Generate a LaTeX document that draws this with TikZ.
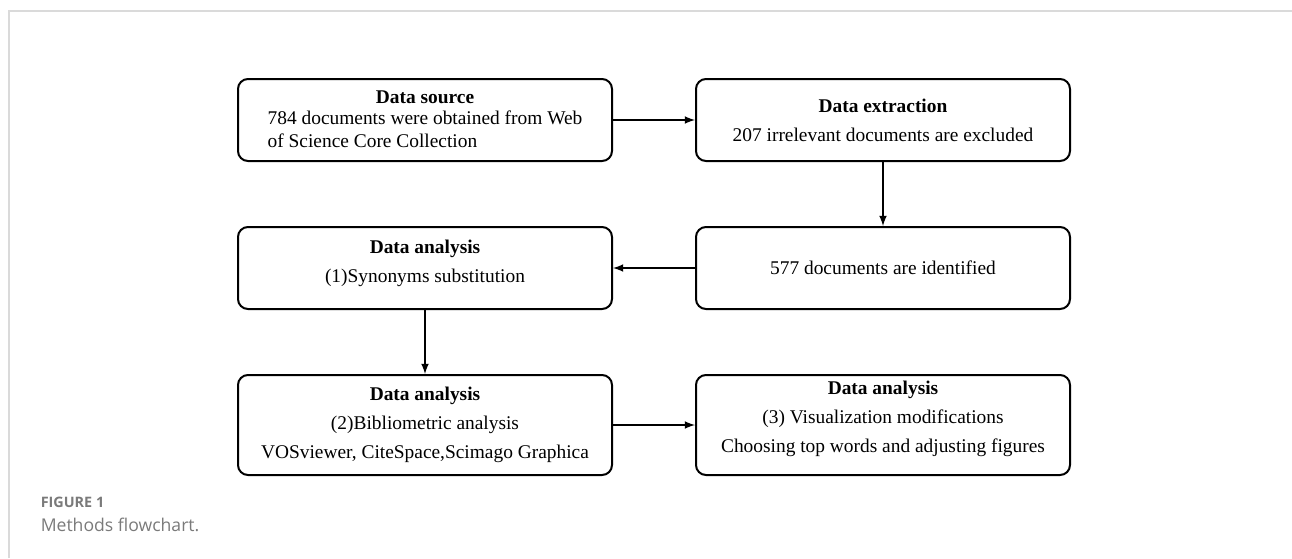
\documentclass[tikz,border=0pt]{standalone}
\usepackage{fontspec}
\setmainfont{Liberation Serif}
\newfontfamily\capfont{Open Sans}
\usetikzlibrary{arrows,shapes,positioning}
\definecolor{capgray}{HTML}{7A7A7A}
\definecolor{framegray}{HTML}{DADADA}

\begin{document}
\begin{tikzpicture}[
        node distance=32pt and 41pt,
        >=latex,
        every path/.style={line width=0.75pt},
        stage/.style={draw, line width=1pt, rounded corners=5pt, align=center, inner sep=0pt,
            minimum width=187pt, minimum height=41pt, font=\fontsize{9.7}{14.5}\selectfont},
        tall/.style={stage, minimum height=50pt},
        caption/.style={text=capgray, anchor=west, inner sep=0pt}
    ]
    \useasboundingbox (0,0) rectangle (646pt,-279pt);

    % Frame
    \draw[framegray] (4.5pt,-279pt) -- (4.5pt,-5.5pt) -- (646pt,-5.5pt);

    % Nodes
    \node[stage, font=\fontsize{9.7}{11.3}\selectfont, text depth=6pt] (src) at (212.5pt,-60pt) {\textbf{Data source}\\[1.5pt]
        \begin{tabular}{@{}l@{}}
        784 documents were obtained from Web\\
        of Science Core Collection
        \end{tabular}};
    \node[stage, right=of src] (ext) {\textbf{Data extraction}\\
        207 irrelevant documents are excluded};
    \node[stage, below=of ext] (ids) {577 documents are identified};
    \node[stage, left=of ids, text depth=6.6pt] (syn) {\textbf{Data analysis}\\
        (1)Synonyms substitution};
    \node[tall, below=of syn] (bib) {\textbf{Data analysis}\\
        (2)Bibliometric analysis\\
        VOSviewer, CiteSpace,Scimago Graphica};
    \node[tall, right=of bib, text depth=8.1pt] (vis) {\textbf{Data analysis}\\
        (3) Visualization modifications\\
        Choosing top words and adjusting figures};

    % Caption
    \node[caption, font=\capfont\bfseries\fontsize{7.2}{8}\selectfont] (fig) at (20pt,-251pt) {FIGURE 1};
    \node[caption, font=\capfont\fontsize{8.8}{10}\selectfont] (cap) at (20pt,-262.5pt) {Methods flowchart.};

    % Edges
    \draw[->] (src) -- (ext);
    \draw[->] (ext) -- (ids);
    \draw[->] (ids) -- (syn);
    \draw[->] (syn) -- (bib);
    \draw[->] (bib) -- (vis);

\end{tikzpicture}
\end{document}
